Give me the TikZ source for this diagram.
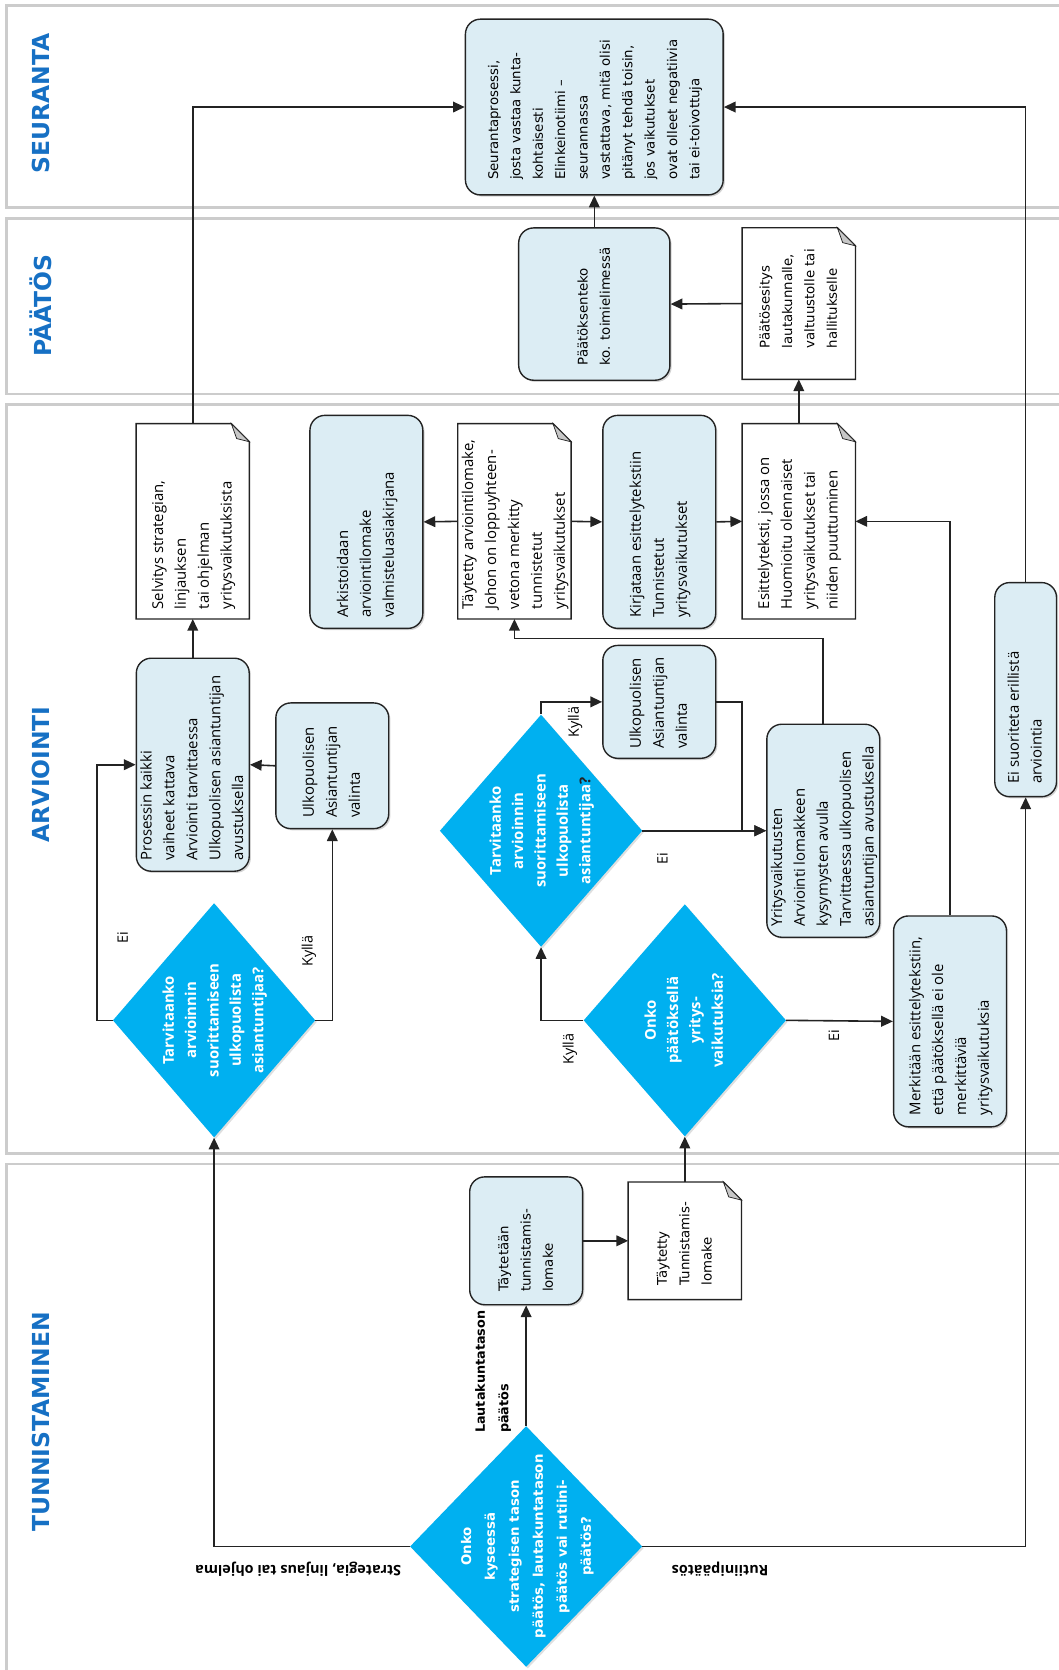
\documentclass[tikz,border=0pt]{standalone}
\usepackage{fontspec}
\setmainfont{Open Sans}
\newfontfamily\verd{DejaVu Sans}
\usepackage{graphicx}
\usepackage{tikz}
\usetikzlibrary{arrows.meta,shapes.geometric,shadows}

\definecolor{boxblue}{RGB}{220,237,244}
\definecolor{diablue}{RGB}{0,176,240}
\definecolor{lanecol}{RGB}{22,112,196}
\definecolor{linecol}{RGB}{35,35,35}

% rotated text blocks, centred on the node
% \rtext: lines start #1 below the block's middle, \ctext: centred lines
\newcommand{\rtext}[2]{\makebox[0pt]{\raisebox{-.5\height}[0pt][0pt]{\rotatebox{90}{\parbox{#1}{\begin{tabular}{@{}l@{}}#2\end{tabular}}}}}}
\newcommand{\ctext}[1]{\makebox[0pt]{\raisebox{-.5\height}[0pt][0pt]{\rotatebox{90}{\begin{tabular}{@{}c@{}}#1\end{tabular}}}}}

% outline of a document node with its folded corner
\newcommand{\docfold}[1]{
\draw[line width=1.3pt, draw=linecol] (#1.south west) -- (#1.north west) -- ([xshift=-17pt]#1.north east) -- ([yshift=-17pt]#1.north east) -- (#1.south east) -- cycle;
\filldraw[line width=0.7pt, draw=linecol, fill=black!22] ([xshift=-17pt]#1.north east) -- ([yshift=-17pt]#1.north east) -- ([xshift=-12pt,yshift=-14pt]#1.north east) -- cycle;
}

\tikzset{
  panel/.style={draw=black!20, line width=2.5pt},
  box/.style={rectangle, rounded corners=14pt, draw=linecol, line width=1.3pt, fill=boxblue, inner sep=0pt,
    drop shadow={shadow xshift=1.6pt, shadow yshift=-1.6pt, opacity=0.35},
    font=\fontsize{14}{21.5}\selectfont},
  doc/.style={rectangle, fill=white, inner sep=0pt, font=\fontsize{14}{21.5}\selectfont},
  vbox/.style={box, font=\verd\fontsize{12.5}{21}\selectfont},
  vdoc/.style={doc, font=\verd\fontsize{12.5}{21}\selectfont},
  dia/.style={diamond, fill=diablue, inner sep=0pt, text=white,
    drop shadow={shadow xshift=1.5pt, shadow yshift=-1.5pt, opacity=0.25},
    font=\bfseries\fontsize{14}{21}\selectfont},
  lane/.style={text=lanecol, rotate=90, inner sep=0pt, font=\verd\bfseries\fontsize{22}{22}\selectfont},
  lbl/.style={inner sep=0pt, rotate=90, font=\fontsize{13.5}{15}\selectfont},
  blbl/.style={inner sep=0pt, rotate=180, font=\bfseries\fontsize{13.5}{15}\selectfont},
  line/.style={draw=linecol, line width=1.5pt},
  arr/.style={line, -{Triangle[length=11pt,width=10pt]}}
}

\begin{document}
\begin{tikzpicture}[x=1pt, y=-1pt]
\useasboundingbox (0,0) rectangle (994,1568);

% lanes
\draw[panel] (6,5) rectangle (1012,195);
\draw[panel] (6,205) rectangle (1012,370);
\draw[panel] (6,380) rectangle (1012,1083);
\draw[panel] (6,1093) rectangle (1012,1585);
\node[lane] (lseur) at (38,97) {SEURANTA};
\node[lane] (lpaat) at (38,287) {PÄÄTÖS};
\node[lane] (larv) at (38,727) {ARVIOINTI};
\node[lane] (ltunn) at (38,1335) {TUNNISTAMINEN};

% seuranta and paatos
\node[vbox, minimum width=242, minimum height=165] (seur) at (558,100.5) {\rtext{137pt}{Seurantaprosessi,\\josta vastaa kunta-\\kohtaisesti\\Elinkeinotiimi –\\seurannassa\\vastattava, mitä olisi\\pitänyt tehdä toisin,\\jos vaikutukset\\ovat olleet negatiivia\\tai ei-toivottuja}};
\node[vbox, minimum width=142, minimum height=143] (paat) at (558,285.5) {\rtext{115pt}{Päätöksenteko\\ko. toimielimessä}};
\node[vdoc, minimum width=106, minimum height=142] (pesit) at (750,285) {\rtext{84pt}{Päätösesitys\\lautakunnalle,\\valtuustolle tai\\hallitukselle}};
\docfold{pesit}

% arviointi
\node[doc, minimum width=106, minimum height=183] (selv) at (181,489.5) {\rtext{165pt}{Selvitys strategian,\\linjauksen\\tai ohjelman\\yritysvaikutuksista}};
\docfold{selv}
\node[box, minimum width=106, minimum height=200] (ark) at (344,490) {\rtext{180pt}{Arkistoidaan\\arviointilomake\\valmisteluasiakirjana}};
\node[doc, minimum width=106, minimum height=183] (tarv) at (483,489.5) {\rtext{165pt}{Täytetty arviointilomake,\\Johon on loppuyhteen-\\vetona merkitty\\tunnistetut\\yritysvaikutukset}};
\docfold{tarv}
\node[box, minimum width=106, minimum height=200] (kirj) at (619,490) {\rtext{180pt}{Kirjataan esittelytekstiin\\Tunnistetut\\yritysvaikutukset}};
\node[doc, minimum width=106, minimum height=183] (esitt) at (750,489.5) {\rtext{165pt}{Esittelyteksti, jossa on\\Huomioitu olennaiset\\yritysvaikutukset tai\\niiden puuttuminen}};
\docfold{esitt}
\node[box, minimum width=106, minimum height=200] (pros) at (181,718) {\rtext{180pt}{Prosessin kaikki\\vaiheet kattava\\Arviointi tarvittaessa\\Ulkopuolisen asiantuntijan\\avustuksella}};
\node[box, minimum width=106, minimum height=118] (ulkL) at (312,719) {\rtext{98pt}{Ulkopuolisen\\Asiantuntijan\\valinta}};
\node[box, minimum width=106, minimum height=106] (ulkM) at (619,659) {\rtext{88pt}{Ulkopuolisen\\Asiantuntijan\\valinta}};
\node[box, minimum width=106, minimum height=200] (yrit) at (773,780) {\rtext{180pt}{Yritysvaikutusten\\Arviointi lomakkeen\\kysymysten avulla\\Tarvittaessa ulkopuolisen\\asiantuntijan avustuksella}};
\node[box, minimum width=58, minimum height=201] (eisu) at (963,647.5) {\rtext{177pt}{Ei suoriteta erillistä\\arviointia}};
\node[box, minimum width=106, minimum height=198] (merk) at (892,959) {\rtext{176pt}{Merkitään esittelytekstiin,\\että päätöksellä ei ole\\merkittäviä\\yritysvaikutuksia}};
\node[dia, minimum width=190, minimum height=220] (d1) at (201,958) {\ctext{Tarvitaanko\\arvioinnin\\suorittamiseen\\ulkopuolista\\asiantuntijaa?}};
\node[dia, minimum width=190, minimum height=218] (d2) at (508,780) {\ctext{Tarvitaanko\\arvioinnin\\suorittamiseen\\ulkopuolista\\asiantuntijaa\textcolor{linecol}{?}}};
\node[dia, minimum width=190, minimum height=218] (d3) at (643,958) {\ctext{Onko\\päätöksellä\\yritys-\\vaikutuksia?}};

% tunnistaminen
\node[vbox, minimum width=106, minimum height=120] (tayt) at (494,1165) {\rtext{96pt}{Täytetään\\tunnistamis-\\lomake}};
\node[vdoc, minimum width=106, minimum height=110] (tdoc) at (643,1165) {\rtext{84pt}{Täytetty\\Tunnistamis-\\lomake}};
\docfold{tdoc}
\node[dia, minimum width=218, minimum height=226, font=\verd\bfseries\fontsize{12.5}{22.5}\selectfont] (d4) at (494,1452) {\ctext{Onko\\kyseessä\\strategisen tason\\päätös, lautakuntatason\\päätös vai rutiini-\\päätös?}};

% connectors
\draw[arr] (selv.north) |- (seur.west);
\draw[arr] (eisu.north) |- (seur.east);
\draw[arr] (paat.north) -- (seur.south);
\draw[arr] (pesit.west) -- (paat.east);
\draw[arr] (esitt.north) -- (pesit.south);
\draw[arr] (tarv.west) -- (ark.east);
\draw[arr] (tarv.east) -- (kirj.west);
\draw[arr] (kirj.east) -- (esitt.west);
\draw[arr] (merk.north) |- (esitt.east);
\draw[arr] (yrit.north) -- ++(0,-80) -| (tarv.south);
\draw[arr] (pros.north) -- (selv.south);
\draw[arr] (ulkL.west) -- (pros.west -| pros.east);
\draw[arr] (d1.west) -- ++(-15,0) |- (pros.west);
\draw[arr] (d1.east) -| (ulkL.south);
\draw[arr] (d2.north) |- (ulkM.west);
\draw[arr] (d2.east) -- (yrit.west);
\draw[arr] (ulkM.east) -- ++(24,0) |- (yrit.west);
\draw[arr] (d3.west) -| (d2.south);
\draw[arr] (d3.east) -- (merk.west);
\draw[arr] (tdoc.north) -- (d3.south);
\draw[arr] (tayt.east) -- (tdoc.west);
\draw[arr] (d4.north) -- (tayt.south);
\draw[arr] (d4.west) -| (d1.south);
\draw[arr] (d4.east) -| (eisu.south);

% connector labels
\node[lbl] (ei1) at (115,880) {Ei};
\node[lbl] (ky1) at (290,893) {Kyllä};
\node[lbl] (ky2) at (540,678) {Kyllä};
\node[lbl] (ei2) at (622,806) {Ei};
\node[lbl] (ky3) at (535,985) {Kyllä};
\node[lbl] (ei3) at (783,972) {Ei};
\node[inner sep=0pt, rotate=90, align=left, font=\verd\bfseries\fontsize{12}{22}\selectfont] (lauta) at (463,1288) {Lautakuntatason\\päätös};
\node[blbl] (strat) at (280,1473) {Strategia, linjaus tai ohjelma};
\node[blbl] (rutii) at (676,1473) {Rutiinipäätös};
\end{tikzpicture}
\end{document}
